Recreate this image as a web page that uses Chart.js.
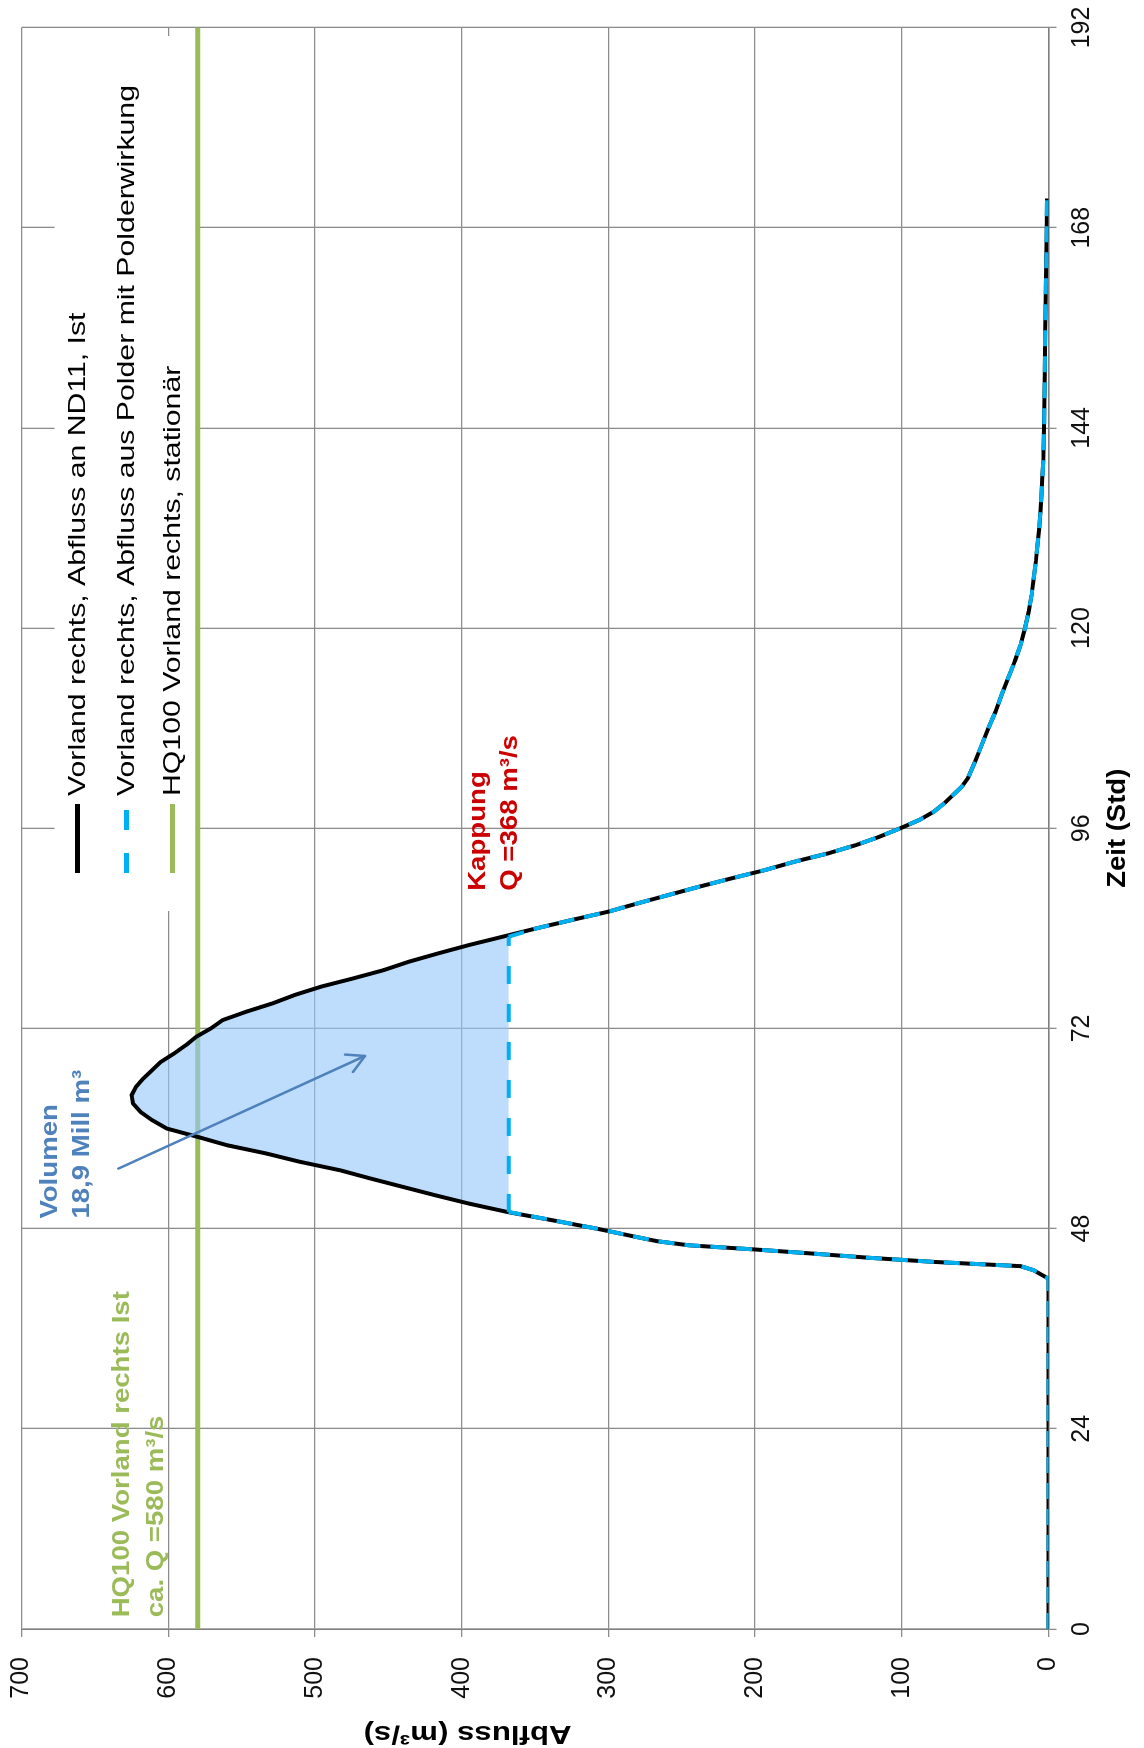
<!DOCTYPE html>
<html>
<head>
<meta charset="utf-8">
<title>Abfluss Vorland rechts</title>
<script src="https://cdn.jsdelivr.net/npm/chart.js@4.4.1/dist/chart.umd.min.js"></script>
<style>
  html, body { margin: 0; padding: 0; background: #ffffff; overflow: hidden; width: 1144px; height: 1748px; }
  /* the chart is laid out landscape and turned a quarter turn counter-clockwise */
  #frame { position: absolute; left: 0; top: 0; width: 1748px; height: 1144px;
           transform-origin: 0 0; transform: translateY(1748px) rotate(-90deg); }
  canvas { display: block; }
</style>
</head>
<body>
<div id="frame"><canvas id="chart" width="1748" height="1144"></canvas></div>
<script>
// ---- data ---------------------------------------------------------------
// time in hours
const stunden = [
  0, 6, 12, 18, 24, 30, 36, 42, 43, 43.5, 44, 44.5, 45, 45.5, 46, 46.5, 47, 48, 49, 50,
  51, 52, 53, 54, 55, 56, 57, 58, 59, 60, 61, 62, 63, 64, 65, 66, 67, 68, 69, 70,
  71, 72, 73, 74, 75, 76, 77, 78, 79, 80, 81, 82, 83, 84, 85, 86, 87, 88, 89, 90,
  91, 92, 93, 94, 95, 96, 97, 98, 99, 100, 101, 102, 104, 106, 108, 110, 112, 114, 116, 118,
  120, 122, 124, 126, 128, 130, 132, 134, 136, 138, 140, 144, 150, 156, 162, 168, 171.5
];
// discharge Vorland rechts at ND11 (m³/s)
const abflussIst = [
  0, 0, 0, 0, 0, 0, 0, 0, 10, 19, 77, 122, 160, 200, 245, 267, 281, 308, 338, 369,
  395, 418, 440, 462, 483, 510, 533, 560, 580, 601, 611, 619, 624, 625, 622, 617, 611, 605, 596, 588,
  581, 571, 563, 547, 529, 514, 496, 474, 453, 436, 416, 395, 372, 349, 325, 300, 280, 259, 238, 216,
  193, 173, 150, 131, 115, 101, 88, 78, 71, 65, 59, 55, 50, 45.5, 41, 36, 32, 27.5, 23, 19,
  16, 13.5, 11.5, 10, 8.6, 7.5, 6.3, 5.5, 4.8, 4.2, 3.6, 3.0, 2.6, 2.2, 1.7, 1.2, 1.0
];
// polder caps the outflow at this discharge (m³/s)
const kappung = 368;
// HQ100 Vorland rechts, stationary (m³/s)
const hq100 = 580;
const hq100Zeit = [0, 192];

// axis ticks
const zeitTicks = [0, 24, 48, 72, 96, 120, 144, 168, 192];
const abflussTicks = [0, 100, 200, 300, 400, 500, 600, 700];

// series labels
const serienNamen = [
  'Vorland rechts, Abfluss an ND11, Ist',
  'Vorland rechts, Abfluss aus Polder mit Polderwirkung',
  'HQ100 Vorland rechts, stationär'
];

// outflow with polder: discharge limited to the cap value
const abflussPolder = abflussIst.map(q => Math.min(q, kappung));

const punkteIst = stunden.map((t, i) => ({ x: t, y: abflussIst[i] }));
const punktePolder = stunden.map((t, i) => ({ x: t, y: abflussPolder[i] }));
const punkteHQ = hq100Zeit.map(t => ({ x: t, y: hq100 }));

// ---- styling ------------------------------------------------------------
const FONT = "'Liberation Sans', Arial, sans-serif";
const SCHWARZ = '#000000';
const HELLBLAU = '#00B0F0';
const GRUEN = '#9BBB59';
const ROT = '#CC0000';
const STAHLBLAU = '#4F81BD';
const FLAECHE = 'rgba(150, 200, 250, 0.62)';

// text annotations: anchor (t, Q) is the baseline start of the first line
const hinweise = [
  { zeilen: ['Kappung', 'Q =368 m³/s'], t: 88.5, q: 384, farbe: ROT, abstand: 32 },
  { zeilen: ['Volumen', '18,9 Mill m³'], t: 49.2, q: 676, farbe: STAHLBLAU, abstand: 32 },
  { zeilen: ['HQ100 Vorland rechts Ist', 'ca. Q =580 m³/s'], t: 1.4, q: 627, farbe: GRUEN, abstand: 34 }
];
// arrow pointing into the retained volume
const pfeil = { von: { t: 55.2, q: 634 }, nach: { t: 68.7, q: 466 } };

function dehnText(ctx, text, x, y, sx) {
  ctx.save();
  ctx.translate(x, y);
  ctx.scale(sx, 1);
  ctx.fillText(text, 0, 0);
  ctx.restore();
}

// legend box drawn inside the plot area, over the grid
const legendePlugin = {
  id: 'legendeImDiagramm',
  beforeDatasetsDraw(chart) {
    const { ctx, chartArea: a } = chart;
    ctx.save();
    ctx.fillStyle = '#ffffff';
    ctx.fillRect(a.left + 718, a.top + 33, 875, 141);
    const x0 = a.left + 756;
    const zeilenY = [a.top + 63, a.top + 112, a.top + 158];
    const farben = [SCHWARZ, HELLBLAU, GRUEN];
    ctx.font = '24px ' + FONT;
    ctx.textBaseline = 'alphabetic';
    ctx.textAlign = 'left';
    for (let i = 0; i < 3; i++) {
      const yl = zeilenY[i] - 7;
      ctx.strokeStyle = farben[i];
      ctx.lineWidth = 5;
      ctx.lineCap = 'butt';
      ctx.setLineDash(i === 1 ? [20, 23] : []);
      ctx.beginPath();
      ctx.moveTo(x0, yl);
      ctx.lineTo(x0 + 69, yl);
      ctx.stroke();
      ctx.setLineDash([]);
      ctx.fillStyle = '#000000';
      dehnText(ctx, serienNamen[i], x0 + 77, zeilenY[i], 1.26);
    }
    ctx.restore();
  }
};

// axis titles, notes and arrow
const beschriftungPlugin = {
  id: 'beschriftung',
  afterDatasetsDraw(chart) {
    const { ctx, chartArea: a, scales } = chart;
    const xs = scales.x, ys = scales.y;
    ctx.save();

    // axis titles
    ctx.fillStyle = '#000000';
    ctx.font = 'bold 25px ' + FONT;
    ctx.textAlign = 'center';
    ctx.textBaseline = 'middle';
    ctx.save();
    ctx.translate((a.left + a.right) / 2, 1118);
    ctx.scale(1.1, 1);
    ctx.fillText('Zeit (Std)', 0, 0);
    ctx.restore();

    ctx.font = 'bold 26px ' + FONT;
    ctx.save();
    ctx.translate(15, ys.getPixelForValue(396));
    ctx.rotate(-Math.PI / 2);
    ctx.scale(1.2, 1);
    ctx.fillText('Abfluss (m³/s)', 0, 0);
    ctx.restore();

    // notes
    ctx.font = 'bold 24px ' + FONT;
    ctx.textAlign = 'left';
    ctx.textBaseline = 'alphabetic';
    hinweise.forEach(h => {
      const x = xs.getPixelForValue(h.t);
      const y = ys.getPixelForValue(h.q);
      ctx.fillStyle = h.farbe;
      h.zeilen.forEach((z, i) => dehnText(ctx, z, x, y + i * h.abstand, 1.15));
    });

    // arrow
    const x1 = xs.getPixelForValue(pfeil.von.t), y1 = ys.getPixelForValue(pfeil.von.q);
    const x2 = xs.getPixelForValue(pfeil.nach.t), y2 = ys.getPixelForValue(pfeil.nach.q);
    ctx.strokeStyle = STAHLBLAU;
    ctx.lineWidth = 2.5;
    ctx.lineCap = 'round';
    ctx.lineJoin = 'round';
    ctx.beginPath();
    ctx.moveTo(x1, y1);
    ctx.lineTo(x2, y2);
    ctx.stroke();
    const w = Math.atan2(y2 - y1, x2 - x1);
    const l = 20, s = 0.5;
    ctx.beginPath();
    ctx.moveTo(x2 - l * Math.cos(w - s), y2 - l * Math.sin(w - s));
    ctx.lineTo(x2, y2);
    ctx.lineTo(x2 - l * Math.cos(w + s), y2 - l * Math.sin(w + s));
    ctx.stroke();

    ctx.restore();
  }
};

const gitter = {
  color: '#8c8c8c',
  lineWidth: 1.3,
  tickLength: 8,
  drawTicks: true
};

new Chart(document.getElementById('chart'), {
  type: 'line',
  data: {
    datasets: [
      {
        label: serienNamen[0],
        data: punkteIst,
        borderColor: SCHWARZ,
        borderWidth: 4,
        pointRadius: 0,
        tension: 0,
        borderJoinStyle: 'round',
        fill: { target: 1, above: FLAECHE, below: 'rgba(0,0,0,0)' },
        order: 2
      },
      {
        label: serienNamen[1],
        data: punktePolder,
        borderColor: HELLBLAU,
        borderWidth: 4,
        borderDash: [16, 10],
        pointRadius: 0,
        tension: 0,
        fill: false,
        order: 1,
        segment: {
          borderDash: c => (c.p0.parsed.y === kappung && c.p1.parsed.y === kappung) ? [18, 20] : undefined
        }
      },
      {
        label: serienNamen[2],
        data: punkteHQ,
        borderColor: GRUEN,
        borderWidth: 5,
        pointRadius: 0,
        fill: false,
        order: 3
      }
    ]
  },
  options: {
    responsive: false,
    animation: false,
    devicePixelRatio: 1,
    layout: { padding: { top: 21.6, right: 27.5, left: 0, bottom: 0 } },
    plugins: {
      legend: { display: false },
      tooltip: { enabled: false },
      title: { display: false }
    },
    scales: {
      x: {
        type: 'linear',
        min: 0,
        max: 192,
        afterBuildTicks: s => { s.ticks = zeitTicks.map(v => ({ value: v })); },
        afterFit: s => { s.height = 95.5; s.paddingLeft = 0; s.paddingRight = 0; },
        grid: gitter,
        border: { display: true, color: '#7f7f7f', width: 1.5 },
        ticks: {
          font: { family: FONT, size: 25 },
          color: '#111111',
          padding: 11,
          maxRotation: 0,
          autoSkip: false
        }
      },
      y: {
        type: 'linear',
        min: 0,
        max: 700,
        afterBuildTicks: s => { s.ticks = abflussTicks.map(v => ({ value: v })); },
        afterFit: s => { s.width = 119; s.paddingTop = 0; s.paddingBottom = 0; },
        grid: gitter,
        border: { display: true, color: '#7f7f7f', width: 1.5 },
        ticks: {
          font: { family: FONT, size: 25 },
          color: '#111111',
          padding: 20,
          autoSkip: false
        }
      }
    }
  },
  plugins: [legendePlugin, beschriftungPlugin]
});
</script>
</body>
</html>
